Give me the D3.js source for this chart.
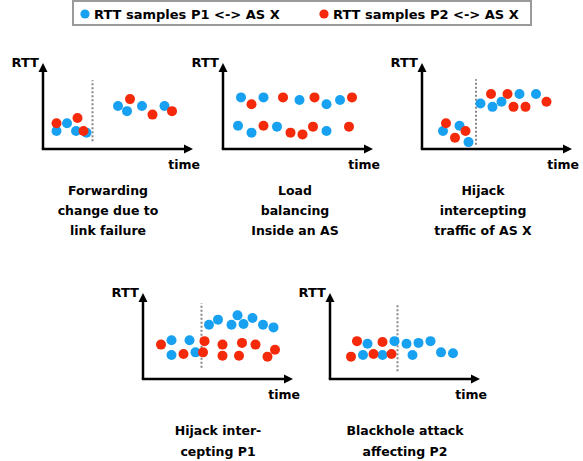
<!DOCTYPE html>
<html><head><meta charset="utf-8">
<script src="https://cdn.jsdelivr.net/npm/d3@7"></script>
<style>body{margin:0;background:#fff}svg{display:block;font-family:"DejaVu Sans",Verdana,sans-serif;font-weight:bold}</style>
</head><body><svg id="c" width="583" height="461"></svg>
<script>
// ---- data (time, RTT) in relative units 0..100 ----
const legendLabels = ["RTT samples P1 <-> AS X", "RTT samples P2 <-> AS X"];
const titles = [
  ["Forwarding", "change due to", "link failure"],
  ["Load", "balancing", "Inside an AS"],
  ["Hijack", "intercepting", "traffic of AS X"],
  ["Hijack inter-", "cepting P1"],
  ["Blackhole attack", "affecting P2"]
];
const p1Blue = [[9,21],[16,30],[22,21],[29,19],[50,50],[56,44],[66,50],[81,50]];
const p1Red  = [[9,30],[23,36],[27,21],[58,58],[73,40],[86,44]];
const p2Blue = [[12,60],[27,60],[51,57],[69,52],[78,57],[10,27],[19,19],[36,26],[69,21]];
const p2Red  = [[19,52],[40,60],[61,60],[86,60],[27,27],[45,19],[53,17],[60,26],[84,26]];
const p3Blue = [[14,21],[25,27],[31,8],[39,53],[47,49],[53,55],[65,64],[76,64]];
const p3Red  = [[16,30],[29,21],[22,13],[46,64],[57,64],[61,49],[69,49],[83,55]];
const p4Blue = [[19,45],[31,45],[19,28],[35,31],[44,63],[50,69],[59,63],[63,74],[67,64],[73,71],[80,63],[87,60]];
const p4Red  = [[12,40],[27,29],[41,44],[40,31],[53,40],[53,27],[64,27],[66,42],[75,40],[83,26],[88,34]];
const p5Blue = [[25,41],[22,28],[35,28],[43,44],[51,41],[55,28],[59,42],[67,44],[74,31],[82,30]];
const p5Red  = [[18,44],[14,26],[29,29],[35,43],[41,29]];
// change-point markers: [time, RTT from, RTT to] (null = none)
const p1Change = [33, 9, 80];
const p3Change = [36, 5, 81];
const p4Change = [39, 13, 88];
const p5Change = [45, 9, 87];

const blue = "#19a1f1", red = "#f42a0b";
const layout = [
  {ox:43, oy:149}, {ox:223, oy:149}, {ox:422, oy:149},
  {ox:143, oy:379}, {ox:330, oy:379}
];
const panels = [
  {blue:p1Blue, red:p1Red, change:p1Change, title:titles[0], tc:108, ty:195, lh:20},
  {blue:p2Blue, red:p2Red, change:null, title:titles[1], tc:295, ty:195, lh:20},
  {blue:p3Blue, red:p3Red, change:p3Change, title:titles[2], tc:483, ty:195, lh:20},
  {blue:p4Blue, red:p4Red, change:p4Change, title:titles[3], tc:218, ty:435, lh:21},
  {blue:p5Blue, red:p5Red, change:p5Change, title:titles[4], tc:405, ty:435, lh:21}
];
const W = 150, H = 86, R = 5;
const svg = d3.select("#c");

// legend
const lg = svg.append("g");
lg.append("rect").attr("x",73).attr("y",1).attr("width",458).attr("height",24)
  .attr("fill","#fff").attr("stroke","#9a9a9a").attr("stroke-width",2);
const legX = [85, 324];
legendLabels.forEach((t,i)=>{
  lg.append("circle").attr("cx",legX[i]).attr("cy",14).attr("r",4.6).attr("fill",i?red:blue);
  lg.append("text").attr("x",legX[i]+9).attr("y",18.5).attr("font-size",13).text(t);
});

panels.forEach((p,i)=>{
  const L = layout[i];
  const x = d3.scaleLinear().domain([0,100]).range([L.ox, L.ox+W]);
  const y = d3.scaleLinear().domain([0,100]).range([L.oy, L.oy-H]);
  const g = svg.append("g");
  // axes
  g.append("line").attr("x1",x(0)).attr("y1",y(0)).attr("x2",x(0)).attr("y2",y(100)+8)
    .attr("stroke","#000").attr("stroke-width",2.5);
  g.append("line").attr("x1",x(0)-1.2).attr("y1",y(0)).attr("x2",x(100)-8).attr("y2",y(0))
    .attr("stroke","#000").attr("stroke-width",2.5);
  g.append("path").attr("d",`M${x(0)},${y(100)} l-4.5,9 l9,0 z`).attr("fill","#000");
  g.append("path").attr("d",`M${x(100)},${y(0)} l-9,-4.5 l0,9 z`).attr("fill","#000");
  g.append("text").attr("x",x(0)-4).attr("y",y(100)+4).attr("text-anchor","end")
    .attr("font-size",13).text("RTT");
  g.append("text").attr("x",x(100)+7).attr("y",y(0)+20).attr("text-anchor","end")
    .attr("font-size",12.5).text("time");
  if (p.change) {
    g.append("line").attr("x1",x(p.change[0])).attr("x2",x(p.change[0]))
      .attr("y1",y(p.change[1])).attr("y2",y(p.change[2]))
      .attr("stroke","#888").attr("stroke-width",2).attr("stroke-dasharray","2,2");
  }
  g.selectAll("circle.b").data(p.blue).join("circle").attr("class","b")
    .attr("cx",d=>x(d[0])).attr("cy",d=>y(d[1])).attr("r",R).attr("fill",blue);
  g.selectAll("circle.r").data(p.red).join("circle").attr("class","r")
    .attr("cx",d=>x(d[0])).attr("cy",d=>y(d[1])).attr("r",R).attr("fill",red);
  const t = g.append("text").attr("text-anchor","middle").attr("font-size",12.5);
  p.title.forEach((s,k)=>t.append("tspan").attr("x",p.tc).attr("y",p.ty+k*p.lh).text(s));
});
</script></body></html>
